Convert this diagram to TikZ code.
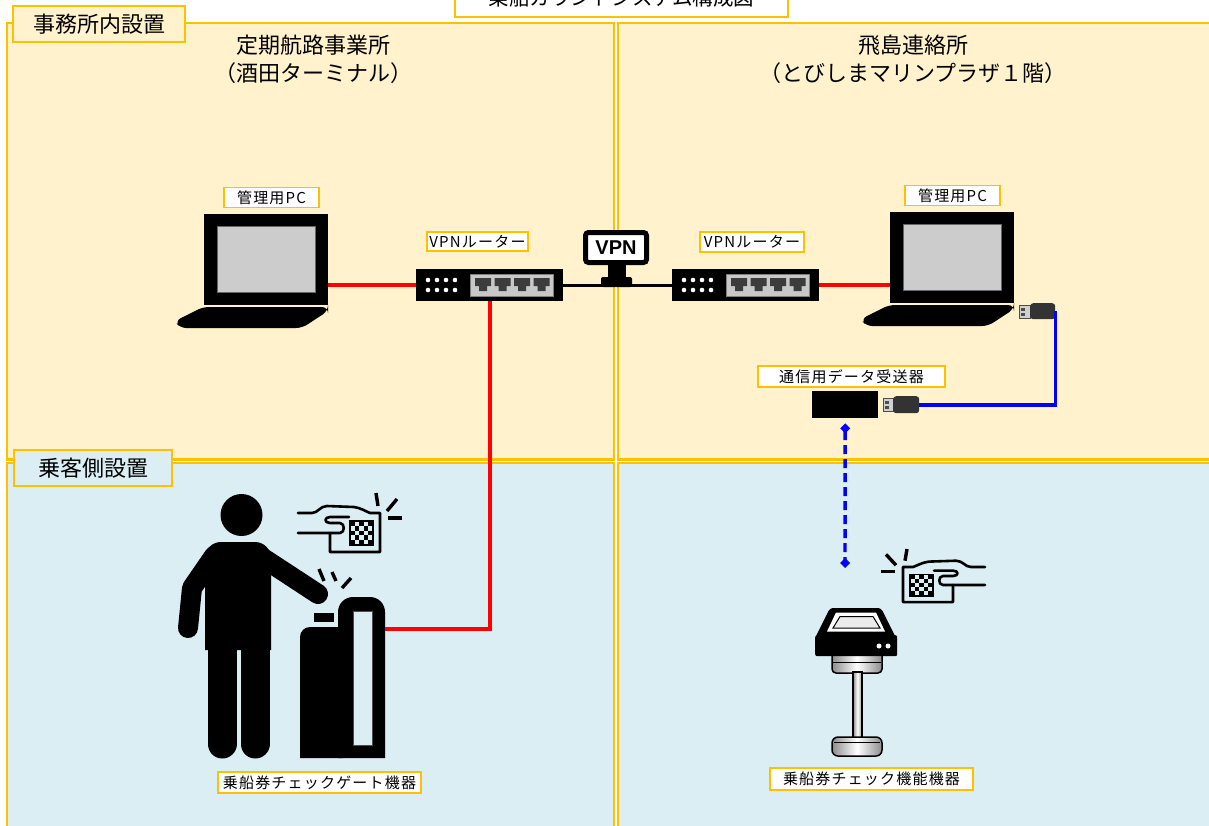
\documentclass[tikz,border=0pt]{standalone}
\usepackage{fontspec}
\setmainfont{Noto Sans CJK JP}
\newfontfamily\tagfont{Noto Sans CJK JP}[LetterSpace=8]
\newfontfamily\vpnfont{Liberation Sans}
\usetikzlibrary{arrows.meta}

\definecolor{gold}{HTML}{FFC000}
\definecolor{officebg}{HTML}{FFF2CC}
\definecolor{guestbg}{HTML}{DAEEF3}
\definecolor{screengrey}{HTML}{CCCCCC}
\definecolor{portgrey}{HTML}{C8C8C8}
\definecolor{portdark}{HTML}{3C3C3C}
\definecolor{usbbody}{HTML}{333333}
\definecolor{usbmetal}{HTML}{D0D0D0}

\tikzset{
  panel/.style={draw=gold, line width=2.2pt},
  zonetag/.style={draw=gold, line width=2pt, inner sep=0pt, font=\fontsize{22}{24}\selectfont},
  devtag/.style={draw=gold, line width=1.6pt, fill=white, inner sep=0pt, minimum height=20pt,
                 font=\tagfont\fontsize{15}{17}\selectfont},
  sitename/.style={align=center, font=\fontsize{22}{28}\selectfont},
  lanwire/.style={draw=red, line width=3.6pt},
  usbwire/.style={draw=blue, line width=3.6pt},
  vpnwire/.style={draw=black, line width=3.2pt},
  radiolink/.style={draw=blue, line width=3.4pt, dash pattern=on 9pt off 5pt,
                    arrows={Diamond[length=10pt,width=10pt]-Diamond[length=10pt,width=10pt]}},
  blockbox/.style={inner sep=0pt, anchor=north west},
  spark/.style={line width=3.4pt},
  iconline/.style={line width=2.6pt, line cap=round, line join=round},
  metal/.style={draw=black, line width=1.5pt, left color=black!45, right color=black!45, middle color=white},
}

% network router: name, left x, top y
\newcommand\NetRouter[3]{%
  \node[blockbox, fill=black, minimum width=147pt, minimum height=32pt] (#1) at (#2,#3) {};
  \begin{scope}[shift={(#2,#3)}]
    \foreach \i in {0,...,3}{\foreach \j in {0,1}{\fill[white] (12+9*\i,11+10*\j) circle (2.3pt);}}
    \fill[portgrey, draw=black!50, line width=0.6pt] (54,5) rectangle (137,27);
    \foreach \i in {0,...,3}{%
      \fill[portdark] (59+19.5*\i,9) -- (75+19.5*\i,9) -- (75+19.5*\i,17) -- (71+19.5*\i,17)
        -- (71+19.5*\i,22) -- (63+19.5*\i,22) -- (63+19.5*\i,17) -- (59+19.5*\i,17) -- cycle;}
  \end{scope}}

% laptop: name, screen left x, screen top y
\newcommand\Laptop[3]{%
  \node[blockbox, fill=black, minimum width=124pt, minimum height=91pt] (#1) at (#2,#3) {};
  \begin{scope}[shift={(#2,#3)}]
    \fill[screengrey, draw=black!60, line width=0.5pt] (13,12) rectangle (111,78);
    \fill[rounded corners=6pt] (-1,93) -- (124,93) -- (124,97) -- (98,114) -- (-24,114) -- (-29,107) -- cycle;
  \end{scope}}

% hand holding a QR ticket, card top-left at the origin
\newcommand\QrTap{%
  \draw[iconline] (-32,0) -- (-18,0) .. controls (-12,0) and (-10,-7) .. (-3,-7) -- (24,-6)
    .. controls (31,-5) and (35,-2) .. (40,0) -- (50,0) -- (50,39) -- (0,39) -- (0,20);
  \draw[iconline] (19,4) -- (0,4) .. controls (-6,4) and (-6,10) .. (0,10) -- (10,10)
    .. controls (15,10) and (15,20) .. (10,20) -- (-32,20);
  \draw[line width=1.4pt] (20,8) rectangle (43,32);
  \foreach \i/\j in {0/0,2/0,4/0,1/1,3/1,0/2,2/2,4/2,1/3,3/3,0/4,2/4,4/4}
    {\fill (20+4.6*\i,8+4.8*\j) rectangle ++(4.6,4.8);}
  \draw[spark] (46,-20) -- (48,-7);
  \draw[spark] (67,-14) -- (57,-2);
  \draw[spark] (58,5) -- (72,5);
}

\begin{document}
\begin{tikzpicture}[x=1pt,y=-1pt]
\useasboundingbox (0,0) rectangle (1209,825);
\begin{scope}
\clip (0,0) rectangle (1209,825);
\fill[white] (0,0) rectangle (1209,825);

% zones
\draw[panel, fill=officebg] (7,23) rectangle (613.7,459.5);
\draw[panel, fill=officebg] (617.7,23) rectangle (1225,459.5);
\draw[panel, fill=guestbg] (7,463) rectangle (613.7,840);
\draw[panel, fill=guestbg] (617.7,463) rectangle (1225,840);

% title
\node[draw=gold, line width=2.4pt, fill=white, minimum width=333pt, minimum height=38pt, inner sep=0pt,
      font=\fontsize{20.5}{22}\selectfont] (title) at (621.5,-2) {乗船カウントシステム構成図};

% zone and site names
\node[zonetag, fill=officebg, minimum width=172pt, minimum height=36pt] (zoneOffice) at (99,24) {事務所内設置};
\node[zonetag, fill=guestbg, minimum width=158pt, minimum height=36pt] (zoneGuest) at (93,468) {乗客側設置};
\node[sitename] (siteSakata) at (313,59) {定期航路事業所\\（酒田ターミナル）};
\node[sitename] (siteTobi) at (913,59) {飛島連絡所\\（とびしまマリンプラザ１階）};

% network devices
\Laptop{pcL}{204}{214}
\Laptop{pcR}{890}{212}
\NetRouter{rtL}{416}{269}
\NetRouter{rtR}{672}{269}

% receiver and USB sticks
\node[blockbox, fill=black, minimum width=66pt, minimum height=27pt] (rx) at (812,391) {};
\fill[usbmetal, draw=black!70, line width=0.6pt] (883,398) rectangle (893,411);
\fill[black!70] (885,400.5) rectangle (889,403.5);
\fill[black!70] (885,405.5) rectangle (889,408.5);
\node[blockbox, fill=usbbody, rounded corners=3pt, minimum width=26pt, minimum height=17pt] (usbRx) at (893,396) {};
\fill[usbmetal, draw=black!70, line width=0.6pt] (1019,305) rectangle (1030,318);
\fill[black!70] (1021,307.5) rectangle (1025,310.5);
\fill[black!70] (1021,312.5) rectangle (1025,315.5);
\node[blockbox, fill=usbbody, rounded corners=3pt, minimum width=25pt, minimum height=16pt] (usbPC) at (1030,303) {};

% passenger at the gate
\fill (241.5,515) circle (21pt);
\fill (205,650) -- (205,558) to[out=90,in=180] (221,542) -- (255,542) to[out=0,in=90] (271,558) -- (271,650) -- cycle;
\draw[line width=20pt, line cap=round, line join=round] (214,556) -- (192,588) -- (188,628);
\draw[line width=20pt, line cap=round] (260,556) -- (318,594);
\draw[line width=29pt, line cap=round] (222,640) -- (222,744);
\draw[line width=29pt, line cap=round] (255,640) -- (255,744);
\fill (300,758) -- (300,637) to[out=90,in=180] (310,627) -- (343,627) -- (343,758) -- cycle;
\node[inner sep=0pt, minimum width=47pt, minimum height=161pt] (gate) at (361.5,677.5) {};
\fill (338,758) -- (338,612) to[out=90,in=180] (353,597) -- (370,597) to[out=0,in=90] (385,612) -- (385,758) -- cycle;
\fill[guestbg, draw=black!70, line width=0.5pt] (353,611) rectangle (372,745);
\fill (314,613) rectangle (334,622);
\draw[spark] (319,569) -- (324,581);
\draw[spark] (332,572) -- (336,581);
\draw[spark] (351,578) -- (342,588);
\coordinate (gatePort) at (385,629);
\begin{scope}[shift={(330,513)}]
  \QrTap
\end{scope}

% ticket check terminal
\begin{scope}[shift={(953,567)}, xscale=-1, yscale=0.9]
  \QrTap
\end{scope}
\draw[metal, rounded corners=4pt] (832,650) rectangle (882,673);
\draw[line width=1pt] (833,662) -- (881,662);
\draw[metal] (853,672) rectangle (862,738);
\draw[metal, rounded corners=6pt] (832,737) rectangle (882,756);
\draw[line width=1pt] (834,742) -- (880,742);
\fill[rounded corners=3pt] (830,608) -- (881,608) -- (896,638) -- (815,638) -- cycle;
\node[blockbox, fill=black, rounded corners=2pt, minimum width=82pt, minimum height=21pt] (reader) at (815,635) {};
\fill[white] (836,612.5) -- (876,612.5) -- (885,631.5) -- (827,631.5) -- cycle;
\draw[line width=1pt, fill=black!8] (840,616.5) -- (873,616.5) -- (880,628) -- (833,628) -- cycle;
\fill[white] (879,646) circle (2.5pt);
\fill[white] (888,646) circle (2.5pt);
\coordinate (readerTop) at (845,568);

% connections
\draw[vpnwire] (rtL.east) -- (rtR.west);
\draw[lanwire] (pcL.east |- rtL.west) -- (rtL.west);
\draw[lanwire] (rtR.east) -- (pcR.west |- rtR.east);
\draw[lanwire] (rtL.south) |- (gatePort);
\draw[usbwire] (usbPC.east) -- (usbPC.east |- usbRx.east) -- (usbRx.east);
\draw[radiolink, shorten <=5pt] (rx.south) -- (readerTop);

% VPN tunnel badge
\node[draw=black, line width=5pt, fill=white, rounded corners=3pt, minimum width=61pt, minimum height=30pt,
      inner sep=0pt, font=\vpnfont\bfseries\fontsize{20}{20}\selectfont] (vpn) at (616,247.5) {VPN};
\fill (608,264) rectangle (626,278);
\fill[rounded corners=2pt] (601,277) rectangle (632,287);

% device labels
\node[devtag, minimum width=95pt] (tagPcL) at (271.5,197.5) {管理用PC};
\node[devtag, minimum width=95pt] (tagPcR) at (952.5,195.5) {管理用PC};
\node[devtag, minimum width=101pt, minimum height=19pt] (tagRtL) at (477.5,241.5) {VPNルーター};
\node[devtag, minimum width=104pt] (tagRtR) at (752,242) {VPNルーター};
\node[devtag, minimum width=187pt, minimum height=21pt] (tagRx) at (851.5,376.5) {通信用データ受送器};
\node[devtag, minimum width=203pt, minimum height=21pt] (tagGate) at (319.5,782.5) {乗船券チェックゲート機器};
\node[devtag, minimum width=203pt, minimum height=22pt] (tagReader) at (871.5,779) {乗船券チェック機能機器};
\end{scope}
\end{tikzpicture}
\end{document}
